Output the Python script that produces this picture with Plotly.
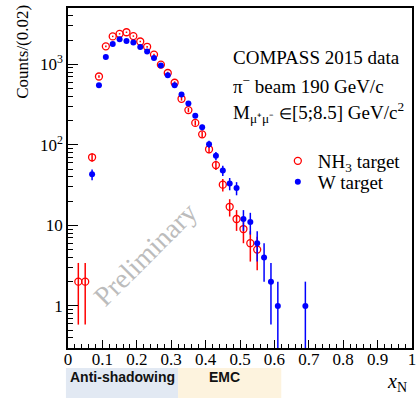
import numpy as np
import plotly.graph_objects as go

# ---- data (counts per 0.02 bin) ----
x_nh3 = [0.03, 0.05, 0.07, 0.09, 0.11, 0.13, 0.15, 0.17, 0.19, 0.21, 0.23, 0.25, 0.27, 0.29,
         0.31, 0.33, 0.35, 0.37, 0.39, 0.41, 0.43, 0.45, 0.47, 0.49, 0.51, 0.53, 0.55]
n_nh3 = [2, 2, 70, 705, 1670, 2220, 2390, 2500, 2240, 1920, 1650, 1320, 990, 780,
         590, 373, 270, 187, 135, 88, 56, 32, 17, 12, 9, 6, 5]

x_w = [0.07, 0.09, 0.11, 0.13, 0.15, 0.17, 0.19, 0.21, 0.23, 0.25, 0.27, 0.29, 0.31, 0.33,
       0.35, 0.37, 0.39, 0.41, 0.43, 0.45, 0.47, 0.49, 0.51, 0.53, 0.55, 0.57, 0.59, 0.61, 0.69]
n_w = [43, 550, 1230, 1780, 2050, 1940, 1860, 1640, 1440, 1200, 963, 731, 550, 423,
       327, 230, 165, 102, 73, 48, 33, 29, 12, 11, 6, 4, 2, 1, 1]

x_ticks = [0, 0.1, 0.2, 0.3, 0.4, 0.5, 0.6, 0.7, 0.8, 0.9, 1]
x_ticktext = ["0", "0.1", "0.2", "0.3", "0.4", "0.5", "0.6", "0.7", "0.8", "0.9", "1"]
y_ticks = [1, 10, 100, 1000]
y_ticktext = ["1", "10", "10<sup>2</sup>", "10<sup>3</sup>"]

Y_MIN, Y_MAX = 0.3, 5000

SERIF = "Liberation Serif, Times New Roman, serif"
SANS = "Liberation Sans, Arial, sans-serif"
RED = "#ff0000"
BLUE = "#0000ff"


def errs(n):
    n = np.asarray(n, dtype=float)
    e = np.sqrt(n)
    lo = np.minimum(e, n - Y_MIN * 0.999)
    return e, lo


e_nh3, lo_nh3 = errs(n_nh3)
e_w, lo_w = errs(n_w)

fig = go.Figure()
fig.add_trace(go.Scatter(
    x=x_nh3, y=n_nh3, mode="markers", name="NH<sub>3</sub> target", legend="legend",
    marker=dict(symbol="circle-open", size=7, color=RED, line=dict(width=1.3, color=RED)),
    error_y=dict(type="data", array=e_nh3, arrayminus=lo_nh3, color=RED, thickness=1.5, width=0),
))
fig.add_trace(go.Scatter(
    x=x_w, y=n_w, mode="markers", name="W target", legend="legend2",
    marker=dict(symbol="circle", size=6, color=BLUE),
    error_y=dict(type="data", array=e_w, arrayminus=lo_w, color=BLUE, thickness=1.5, width=0),
))

minor_y = [v * m for v in [0.1, 1, 10, 100, 1000] for m in range(2, 10)]
minor_y = [v for v in minor_y if Y_MIN <= v <= Y_MAX]

fig.update_xaxes(
    range=[0, 1], tickvals=x_ticks, ticktext=x_ticktext,
    ticks="inside", ticklen=8, tickwidth=1, tickcolor="black",
    minor=dict(dtick=0.02, ticks="inside", ticklen=4, tickwidth=1, tickcolor="black", showgrid=False),
    showline=True, linecolor="black", linewidth=1.5, mirror=True,
    showgrid=False, zeroline=False, ticklabelstandoff=-5, ticklabeloverflow="allow",
    tickfont=dict(family=SERIF, size=17, color="black"),
)
fig.update_yaxes(
    type="log", range=[np.log10(Y_MIN), np.log10(Y_MAX)],
    tickvals=y_ticks, ticktext=y_ticktext,
    ticks="inside", ticklen=10, tickwidth=1, tickcolor="black",
    minor=dict(tickvals=minor_y, ticks="inside", ticklen=5, tickwidth=1, tickcolor="black", showgrid=False),
    showline=True, linecolor="black", linewidth=1.5, mirror=True,
    showgrid=False, zeroline=False,
    tickfont=dict(family=SERIF, size=17, color="black"),
)

# kinematic region bands below the axis
fig.add_shape(type="rect", xref="paper", yref="paper", x0=-0.006, x1=0.32, y0=-0.147, y1=-0.059,
              fillcolor="#e2e9f3", line=dict(width=0), layer="below")
fig.add_shape(type="rect", xref="paper", yref="paper", x0=0.32, x1=0.62, y0=-0.147, y1=-0.059,
              fillcolor="#fdf3de", line=dict(width=0), layer="below")

ann = [
    dict(x=0.0, y=-0.085, text="<b>Anti-shadowing</b>", xanchor="left", yanchor="middle",
         font=dict(family=SANS, size=14, color="#111")),
    dict(x=0.455, y=-0.085, text="<b>EMC</b>", xanchor="center", yanchor="middle",
         font=dict(family=SANS, size=14, color="#111")),
    dict(x=0.474, y=0.853, text="COMPASS 2015 data", xanchor="left", yanchor="middle",
         font=dict(family=SERIF, size=19, color="black")),
    dict(x=0.474, y=0.774, text="π<sup>−</sup> beam 190 GeV/c", xanchor="left", yanchor="middle",
         font=dict(family=SERIF, size=19, color="black")),
    dict(x=0.474, y=0.694,
         text="M<sub>μ⁺μ⁻</sub> <span style=\"font-size:15px\">∈</span>[5;8.5] GeV/c<sup>2</sup>",
         xanchor="left", yanchor="middle", font=dict(family=SERIF, size=19, color="black")),
    dict(x=0.224, y=0.276, text="Preliminary", textangle=-45, xanchor="center", yanchor="middle",
         font=dict(family=SERIF, size=28, color="#bcbcbc")),
    dict(x=0.99, y=-0.1, text="<i>x</i><sub>N</sub>", xanchor="right", yanchor="middle",
         font=dict(family=SERIF, size=20, color="black")),
    dict(x=-0.132, y=0.87, text="Counts/(0.02)", textangle=-90, xanchor="center", yanchor="middle",
         font=dict(family=SERIF, size=17, color="black")),
]
for a in ann:
    a.update(xref="paper", yref="paper", showarrow=False)
    fig.add_annotation(**a)

leg_common = dict(xanchor="left", yanchor="middle", bgcolor="rgba(0,0,0,0)", borderwidth=0,
                  font=dict(family=SERIF, size=19, color="black"), itemwidth=30)
fig.update_layout(
    width=418, height=399,
    margin=dict(l=68, r=2, t=8, b=51),
    paper_bgcolor="white", plot_bgcolor="white",
    showlegend=True,
    legend=dict(x=0.61, y=(348 - 161) / 340, **leg_common),
    legend2=dict(x=0.61, y=(348 - 182) / 340, **leg_common),
)

fig.write_html("out.html")
